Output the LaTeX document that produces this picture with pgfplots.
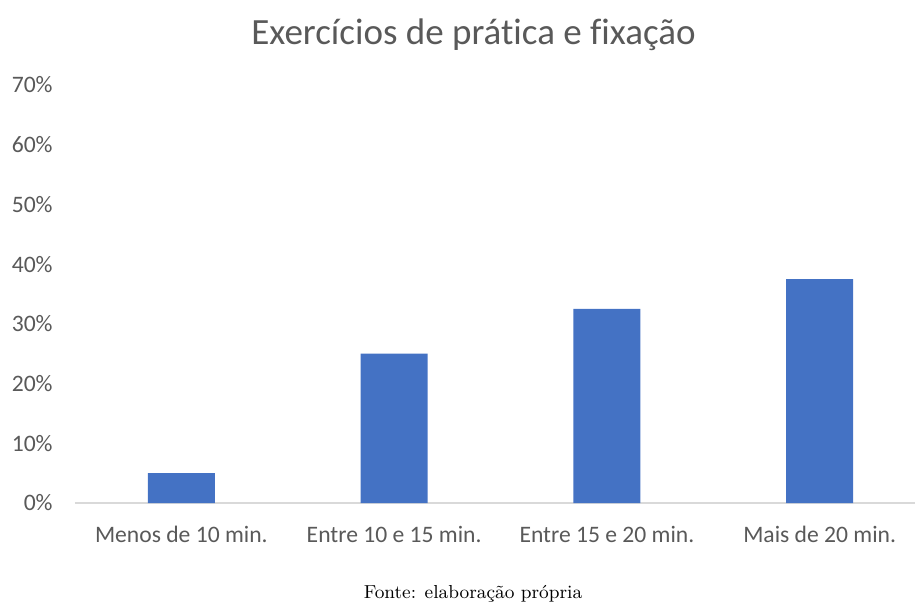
\documentclass[border=0pt]{standalone}
\usepackage{pgfplots}
\pgfplotsset{compat=1.18}
\usepackage{fontspec}
\newfontfamily\calibri{Carlito}[Ligatures=NoCommon]
\definecolor{barblue}{HTML}{4472C4}
\definecolor{txtgray}{HTML}{595959}
\definecolor{axgray}{HTML}{D9D9D9}
\begin{document}
\begin{tikzpicture}
\path[use as bounding box] (-37.5pt,-49.5pt) rectangle (420pt,251.5pt);
\begin{axis}[
  scale only axis, width=420pt, height=209pt,
  xmin=-0.5, xmax=3.448, ymin=0, ymax=70,
  separate axis lines,
  axis x line*=bottom, axis y line*=left,
  x axis line style={axgray, line width=0.75pt},
  y axis line style={draw=none},
  major tick length=0,
  ytick={0,10,...,70},
  yticklabels={0\%,10\%,20\%,30\%,40\%,50\%,60\%,70\%},
  yticklabel style={font=\calibri\fontsize{11.8}{14}\selectfont, text=txtgray,
    anchor=east, inner sep=0pt, xshift=-11pt},
  xtick={0,1,2,3},
  xticklabels={Menos de 10 min., Entre 10 e 15 min., Entre 15 e 20 min., Mais de 20 min.},
  xticklabel style={font=\calibri\fontsize{11.8}{14}\selectfont, text=txtgray,
    anchor=base, inner sep=0pt, yshift=-19.5pt},
  ybar, bar width=33.5pt,
]
\addplot[fill=barblue, draw=none] coordinates {(0,5) (1,25) (2,32.5) (3,37.5)};
\end{axis}
\node[anchor=base, inner sep=0pt, text=txtgray, font=\calibri\fontsize{18.5}{22}\selectfont]
  at (199.25pt,229.5pt) {Exercícios de prática e fixação};
\node[anchor=base, inner sep=0pt, font=\fontsize{9.4}{11}\selectfont]
  at (199pt,-47.8pt) {Fonte: elaboração própria};
\end{tikzpicture}
\end{document}
